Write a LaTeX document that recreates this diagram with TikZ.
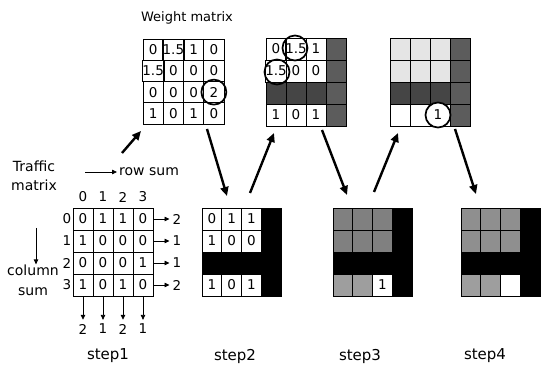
\documentclass[tikz,border=0pt]{standalone}
\usepackage{fontspec}
\setmainfont{DejaVu Sans}
\usetikzlibrary{arrows.meta}
\definecolor{dk}{gray}{0.36}
\definecolor{dkr}{gray}{0.27}
\definecolor{lt}{gray}{0.90}
\definecolor{md}{gray}{0.50}
\definecolor{mdb}{gray}{0.56}
\definecolor{mdl}{gray}{0.62}
\begin{document}
\begin{tikzpicture}[x=1pt,y=-1pt,
  cell/.style={draw=black, line width=0.7pt, inner sep=0pt, outer sep=0pt,
    font=\fontsize{13.5}{14}\selectfont},
  lbl/.style={inner sep=0pt, font=\fontsize{14}{16}\selectfont},
  num/.style={inner sep=0pt, font=\fontsize{13.5}{14}\selectfont},
  steplbl/.style={inner sep=0pt, font=\fontsize{15}{17}\selectfont},
  ring/.style={circle, draw=black, line width=1.7pt, minimum size=25pt, inner sep=0pt},
  bigarrow/.style={line width=2.4pt, -{Triangle[width=8pt,length=9pt]}},
  thinarrow/.style={line width=0.8pt, -{Triangle[width=4.5pt,length=5pt]}}]
\useasboundingbox (0,0) rectangle (541,374);

% ---------- step1: weight matrix ----------
\node[lbl, font=\fontsize{13}{15}\selectfont] (wtitle) at (187,18) {Weight matrix};
\foreach \r/\c/\f/\t in {1/1/none/0,1/2/none/1.5,1/3/none/1,1/4/none/0,
  2/1/none/1.5,2/2/none/0,2/3/none/0,2/4/none/0,
  3/1/none/0,3/2/none/0,3/3/none/0,3/4/none/2,
  4/1/none/1,4/2/none/0,4/3/none/1,4/4/none/0}
  \node[cell, fill=\f, minimum width=20.25pt, minimum height=21.25pt] (W\r\c)
    at ({143+(\c-0.5)*20.25},{39+(\r-0.5)*21.25}) {\t};
\node[ring] (ringA) at (W34) {};

% ---------- step1: traffic matrix ----------
\foreach \r/\c/\t in {1/1/0,1/2/1,1/3/1,1/4/0,
  2/1/1,2/2/0,2/3/0,2/4/0,
  3/1/0,3/2/0,3/3/0,3/4/1,
  4/1/1,4/2/0,4/3/1,4/4/0}
  \node[cell, minimum width=20pt, minimum height=22pt] (T\r\c)
    at ({73+(\c-0.5)*20},{208+(\r-0.5)*22}) {\t};
\foreach \c/\t in {1/0,2/1,3/2,4/3}
  \node[num] (colidx\c) at ({73+(\c-0.5)*20},197) {\t};
\foreach \r/\t in {1/0,2/1,3/2,4/3}
  \node[num] (rowidx\r) at (67,{208+(\r-0.5)*22}) {\t};
\foreach \r/\t in {1/2,2/1,3/1,4/2} {
  \node[num] (rs\r) at (177,{208+(\r-0.5)*22}) {\t};
  \draw[thinarrow, shorten >=3pt] (T\r4.east) -- (rs\r.west);
}
\foreach \c/\t in {1/2,2/1,3/2,4/1} {
  \node[num] (cs\c) at ({73+(\c-0.5)*20},329) {\t};
  \draw[thinarrow, shorten >=4pt] (T4\c.south) -- (cs\c.north);
}
\node[lbl] (traffic) at (34,166) {Traffic};
\node[lbl] (tmatrix) at (34,185) {matrix};
\node[lbl, anchor=west] (rowsum) at (119,172) {row sum};
\coordinate (rsA) at (85,172);
\draw[thinarrow, shorten >=2pt] (rsA) -- (rowsum.west);
\node[lbl] (column) at (33,270) {column};
\node[lbl] (csum) at (33,292) {sum};
\coordinate (csA) at (36,228);
\draw[thinarrow] (csA) -- (csA |- column.north);

% ---------- step2 ----------
\foreach \r/\c/\f/\t in {1/1/none/0,1/2/none/1.5,1/3/none/1,1/4/dk/{},
  2/1/none/1.5,2/2/none/0,2/3/none/0,2/4/dk/{},
  3/1/dkr/{},3/2/dkr/{},3/3/dkr/{},3/4/dk/{},
  4/1/none/1,4/2/none/0,4/3/none/1,4/4/dk/{}}
  \node[cell, fill=\f, minimum width=20pt, minimum height=22pt] (P\r\c)
    at ({266+(\c-0.5)*20},{38+(\r-0.5)*22}) {\t};
\node[ring] (ringB) at (295,48) {};
\node[ring] (ringC) at (277,72) {};
\foreach \r/\c/\f/\t in {1/1/none/0,1/2/none/1,1/3/none/1,1/4/black/{},
  2/1/none/1,2/2/none/0,2/3/none/0,2/4/black/{},
  3/1/black/{},3/2/black/{},3/3/black/{},3/4/black/{},
  4/1/none/1,4/2/none/0,4/3/none/1,4/4/black/{}}
  \node[cell, fill=\f, minimum width=19.75pt, minimum height=22pt] (Q\r\c)
    at ({202+(\c-0.5)*19.75},{208+(\r-0.5)*22}) {\t};

% ---------- step3 ----------
\foreach \r/\c/\f/\t in {1/1/lt/{},1/2/lt/{},1/3/lt/{},1/4/dk/{},
  2/1/lt/{},2/2/lt/{},2/3/lt/{},2/4/dk/{},
  3/1/dkr/{},3/2/dkr/{},3/3/dkr/{},3/4/dk/{},
  4/1/none/{},4/2/none/{},4/3/none/{},4/4/dk/{}}
  \node[cell, fill=\f, minimum width=20pt, minimum height=22pt] (R\r\c)
    at ({390+(\c-0.5)*20},{38+(\r-0.5)*22}) {\t};
\node[ring, fill=white, font=\fontsize{13.5}{14}\selectfont] (ringD) at (438,115) {1};
\foreach \r/\c/\f/\t in {1/1/md/{},1/2/md/{},1/3/md/{},1/4/black/{},
  2/1/md/{},2/2/md/{},2/3/md/{},2/4/black/{},
  3/1/black/{},3/2/black/{},3/3/black/{},3/4/black/{},
  4/1/mdl/{},4/2/mdl/{},4/3/white/1,4/4/black/{}}
  \node[cell, fill=\f, minimum width=19.75pt, minimum height=22pt] (S\r\c)
    at ({333+(\c-0.5)*19.75},{208+(\r-0.5)*22}) {\t};

% ---------- step4 ----------
\foreach \r/\c/\f/\t in {1/1/mdb/{},1/2/mdb/{},1/3/mdb/{},1/4/black/{},
  2/1/mdb/{},2/2/mdb/{},2/3/mdb/{},2/4/black/{},
  3/1/black/{},3/2/black/{},3/3/black/{},3/4/black/{},
  4/1/mdl/{},4/2/mdl/{},4/3/white/{},4/4/black/{}}
  \node[cell, fill=\f, minimum width=19.75pt, minimum height=22pt] (U\r\c)
    at ({461+(\c-0.5)*19.75},{208+(\r-0.5)*22}) {\t};

% ---------- big arrows ----------
\coordinate (a1s) at (122,153); \coordinate (a1e) at (141,131);
\coordinate (a2s) at (207,129); \coordinate (a2e) at (227,196);
\coordinate (a3s) at (250,193); \coordinate (a3e) at (274,133);
\coordinate (a4s) at (322,130); \coordinate (a4e) at (347,195);
\coordinate (a5s) at (374,192); \coordinate (a5e) at (398,133);
\coordinate (a6s) at (455,129); \coordinate (a6e) at (476,194);
\foreach \i in {1,...,6}
  \draw[bigarrow] (a\i s) -- (a\i e);

% ---------- step labels ----------
\node[steplbl] (step1) at (108,356) {step1};
\node[steplbl] (step2) at (235,356) {step2};
\node[steplbl] (step3) at (360,356) {step3};
\node[steplbl] (step4) at (485,356) {step4};
\end{tikzpicture}
\end{document}
